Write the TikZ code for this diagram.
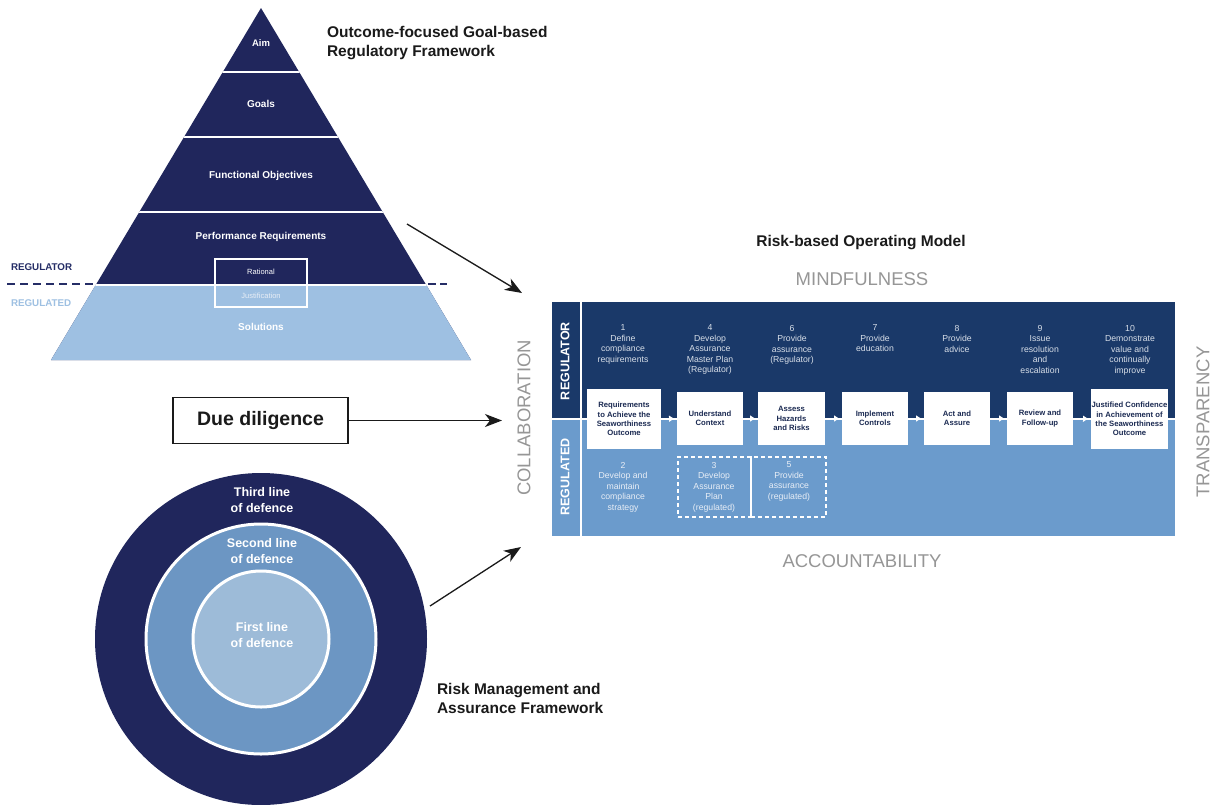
\documentclass[tikz,border=0pt]{standalone}
\usepackage{fontspec}
\setmainfont{Liberation Sans}
\usetikzlibrary{arrows.meta}
\definecolor{navy}{RGB}{32,38,92}
\definecolor{paleblue}{RGB}{158,192,226}
\definecolor{opdark}{RGB}{26,57,105}
\definecolor{oplight}{RGB}{107,155,204}
\definecolor{midblue}{RGB}{108,150,195}
\definecolor{innerblue}{RGB}{157,187,216}
\definecolor{biggray}{RGB}{150,150,150}
\definecolor{regtxt}{RGB}{215,222,232}
\definecolor{lowtxt}{RGB}{232,238,246}
\definecolor{boxtxt}{RGB}{27,42,82}
\definecolor{labnavy}{RGB}{37,45,102}
\definecolor{inktxt}{RGB}{26,26,26}
\newcommand{\fs}[2]{\fontsize{#1}{#2}\selectfont}
\begin{document}
\begin{tikzpicture}[x=1pt,y=-1pt,
  every node/.style={inner sep=0pt,outer sep=0pt},
  pyrtxt/.style={text=white,font=\bfseries\fs{10}{12}},
  steptxt/.style={anchor=north,align=center,text=regtxt,font=\fs{8.7}{10.5}},
  lowstep/.style={anchor=north,align=center,text=lowtxt,font=\fs{8.7}{10.5}},
  wbox/.style={fill=white,align=center,text=boxtxt,font=\bfseries\fs{7.7}{9.3},minimum height=53pt},
  dbox/.style={draw=white,dashed,dash pattern=on 4pt off 3pt,line width=1.2pt,minimum height=60pt},
  bigword/.style={text=biggray,font=\fs{18.5}{20}},
  heading/.style={text=inktxt,font=\bfseries\fs{15.5}{19},align=left},
  bigarrow/.style={draw=inktxt,line width=1.3pt,-{Stealth[length=17pt,width=13pt,inset=5pt]}},
  flowarr/.style={draw=white,line width=1.2pt,-{Triangle[length=5pt,width=6pt]},shorten >=3pt},
  circtxt/.style={text=white,align=center,font=\bfseries\fs{12.5}{16}},
  sidelab/.style={anchor=west,font=\bfseries\fs{9.8}{11}}
]
\path[use as bounding box,fill=white] (0,0) rectangle (1213,804);

% ---------------- Pyramid ----------------
\coordinate (apex) at (261,8);
\coordinate (bl) at (51,360);
\coordinate (br) at (471,360);
\fill[navy] (apex) -- (bl) -- (br) -- cycle;
\fill[paleblue] (95.7,285) -- (426.3,285) -- (br) -- (bl) -- cycle;
\begin{scope}
  \clip (apex) -- (bl) -- (br) -- cycle;
  \foreach \yy in {72,137,212,285} \draw[white,line width=2pt] (0,\yy) -- (500,\yy);
\end{scope}
\node[pyrtxt,font=\bfseries\fs{9.5}{11}] (aim) at (261,43) {Aim};
\node[pyrtxt] (goals) at (261,104) {Goals};
\node[pyrtxt] (fo) at (261,176) {Functional Objectives};
\node[pyrtxt] (pr) at (261,237) {Performance Requirements};
\node[pyrtxt] (sol) at (261,327) {Solutions};
\node[draw=white,line width=1.5pt,minimum width=92pt,minimum height=48pt] (rat) at (261,283) {};
\node[text=white,font=\fs{7.5}{9}] (rattxt) at (261,272) {Rational};
\node[text=lowtxt,font=\fs{7.5}{9}] (justxt) at (261,296) {Justification};
\draw[labnavy,line width=1.8pt,dash pattern=on 8pt off 5pt] (7,284) -- (96,284);
\draw[labnavy,line width=1.8pt,dash pattern=on 8pt off 4pt] (428,284) -- (447,284);
\node[sidelab,text=labnavy] (lreg) at (11,267) {REGULATOR};
\node[sidelab,text=paleblue] (lrgd) at (11,303) {REGULATED};
\node[heading,anchor=west] (pyrtitle) at (327,43.5) {Outcome-focused Goal-based\\Regulatory Framework};

% ---------------- Operating model ----------------
\node[heading] (optitle) at (861,243) {Risk-based Operating Model};
\node[bigword] (mind) at (862,279) {MINDFULNESS};
\node[bigword] (acc) at (862,561) {ACCOUNTABILITY};
\node[bigword,rotate=90] (coll) at (524,418) {COLLABORATION};
\node[bigword,rotate=90] (transp) at (1203,422) {TRANSPARENCY};
\fill[opdark] (552,302) rectangle (1175,419);
\fill[oplight] (552,419) rectangle (1175,536);
\draw[white,line width=2.5pt] (581,302) -- (581,536);
\draw[white,line width=1.2pt] (552,419) -- (1175,419);
\node[rotate=90,text=white,font=\bfseries\fs{12.5}{14}] (vreg) at (565,361) {REGULATOR};
\node[rotate=90,text=white,font=\bfseries\fs{12.5}{14}] (vrgd) at (565,477) {REGULATED};

\node[steptxt] (s1) at (623,325) {1\\Define\\compliance\\requirements};
\node[steptxt] (s4) at (710,325) {4\\Develop\\Assurance\\Master Plan\\(Regulator)};
\node[steptxt] (s6) at (792,325) {6\\Provide\\assurance\\(Regulator)};
\node[steptxt] (s7) at (875,325) {7\\Provide\\education};
\node[steptxt] (s8) at (957,325) {8\\Provide\\advice};
\node[steptxt] (s9) at (1040,325) {9\\Issue\\resolution\\and\\escalation};
\node[steptxt] (s10) at (1130,325) {10\\Demonstrate\\value and\\continually\\improve};

\node[wbox,minimum width=74pt,minimum height=60pt] (b1) at (624,419) {Requirements\\to Achieve the\\Seaworthiness\\Outcome};
\node[wbox,minimum width=66pt] (b2) at (710,418.5) {Understand\\Context};
\node[wbox,minimum width=67pt] (b3) at (791.5,418.5) {Assess\\Hazards\\and Risks};
\node[wbox,minimum width=66pt] (b4) at (875,418.5) {Implement\\Controls};
\node[wbox,minimum width=66pt] (b5) at (957,418.5) {Act and\\Assure};
\node[wbox,minimum width=66pt] (b6) at (1040,418.5) {Review and\\Follow-up};
\node[wbox,minimum width=77pt,minimum height=60pt] (b7) at (1129.5,419) {Justified Confidence\\in Achievement of\\the Seaworthiness\\Outcome};
\draw[flowarr] (b1) -- (b2);
\draw[flowarr] (b2) -- (b3);
\draw[flowarr] (b3) -- (b4);
\draw[flowarr] (b4) -- (b5);
\draw[flowarr] (b5) -- (b6);
\draw[flowarr] (b6) -- (b7);

\node[dbox,minimum width=73pt] (d3) at (714.5,487) {};
\node[dbox,minimum width=75pt] (d5) at (788.5,487) {};
\node[lowstep] (s2) at (623,462) {2\\Develop and\\maintain\\compliance\\strategy};
\node[lowstep] (s3) at (714,462) {3\\Develop\\Assurance\\Plan\\(regulated)};
\node[lowstep] (s5) at (789,462) {5\\Provide\\assurance\\(regulated)};

% ---------------- Due diligence ----------------
\node[draw=inktxt,line width=1.3pt,minimum width=175pt,minimum height=46pt,text=inktxt,font=\bfseries\fs{19.5}{22}] (dd) at (260.5,420.5) {Due diligence};

% ---------------- Circles ----------------
\node[circle,fill=navy,minimum size=332pt] (outer) at (261,639) {};
\node[circle,fill=midblue,draw=white,line width=3pt,minimum size=230pt] (middle) at (261,639) {};
\node[circle,fill=innerblue,draw=white,line width=3pt,minimum size=136pt] (inner) at (261,639) {};
\node[circtxt] (third) at (262,500) {Third line\\of defence};
\node[circtxt] (second) at (262,551) {Second line\\of defence};
\node[circtxt] (first) at (262,635) {First line\\of defence};
\node[heading,anchor=west] (rmtitle) at (437,698) {Risk Management and\\Assurance Framework};

% ---------------- Connectors ----------------
\coordinate (a1s) at (407,224);
\coordinate (a1e) at (522,293);
\coordinate (a2e) at (502,420.5);
\coordinate (a3s) at (430,606);
\coordinate (a3e) at (521,547);
\draw[bigarrow] (a1s) -- (a1e);
\draw[bigarrow] (dd.east) -- (a2e);
\draw[bigarrow] (a3s) -- (a3e);
\end{tikzpicture}
\end{document}
